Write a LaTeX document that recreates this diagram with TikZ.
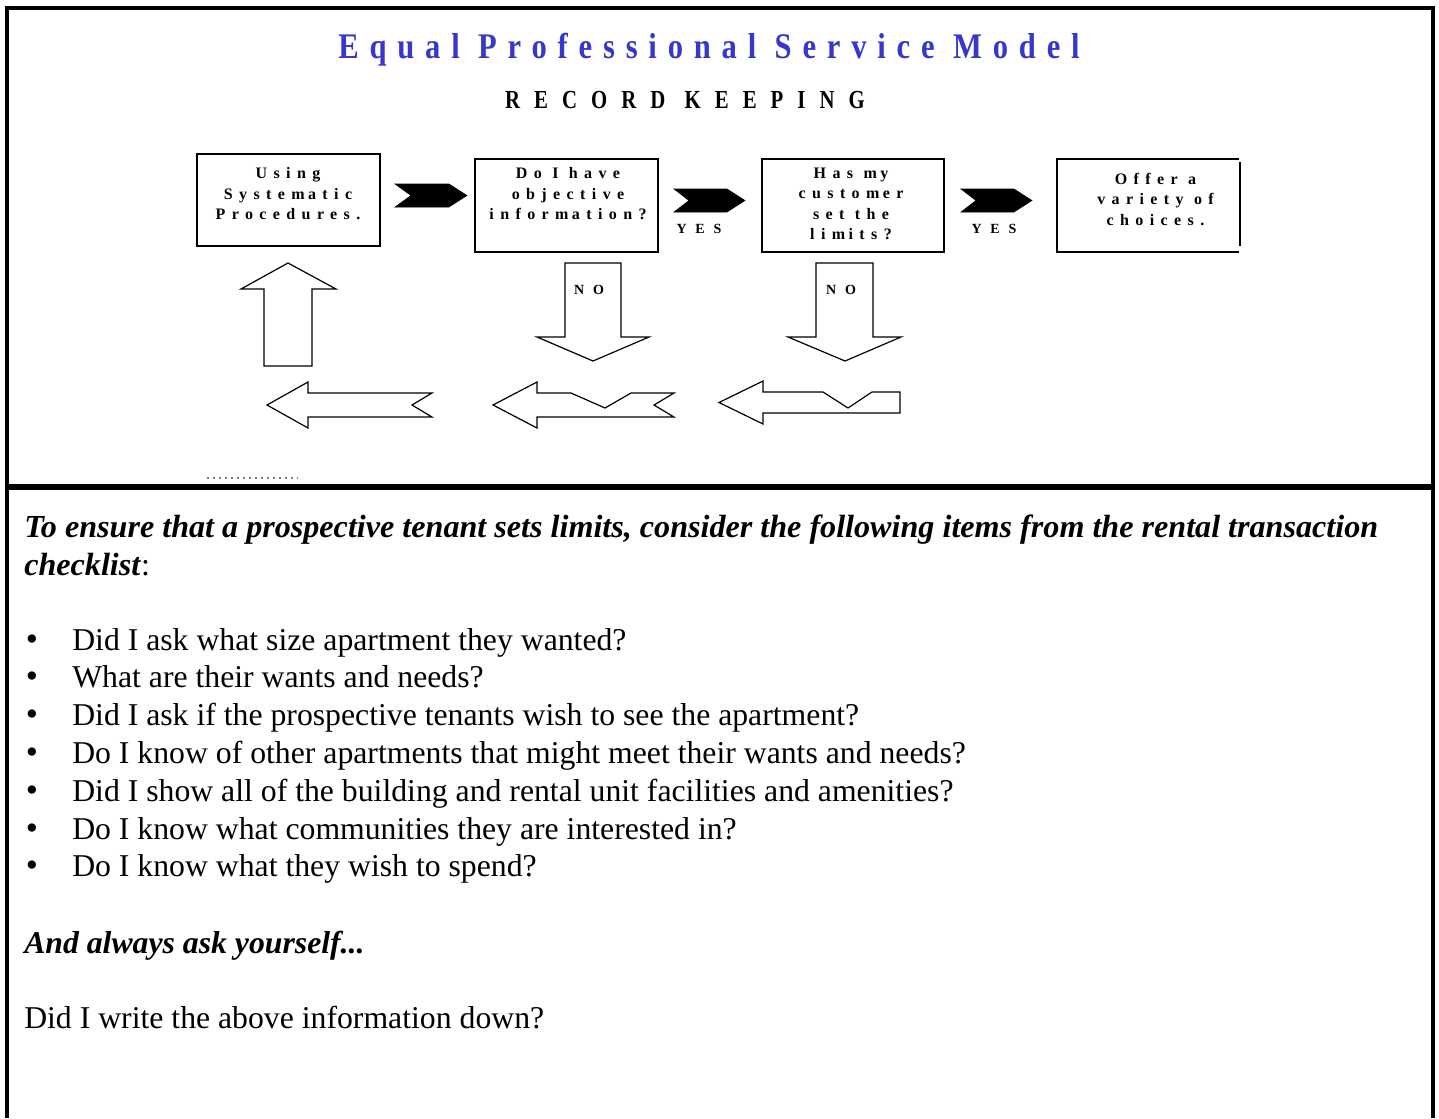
\documentclass[tikz,border=0pt]{standalone}
\usepackage{fontspec}
\setmainfont{Liberation Serif}
\newfontfamily\titlefont[LetterSpace=30,FakeStretch=0.85]{Liberation Serif}
\newfontfamily\recfont[LetterSpace=54,FakeStretch=0.8]{Liberation Serif}
\newfontfamily\diagfont[LetterSpace=40]{Liberation Serif}
\newfontfamily\ynfont[LetterSpace=63]{Liberation Serif}
\definecolor{titleblue}{RGB}{55,55,205}
\newcommand\mgap{\hspace{2.5pt}}
\tikzset{
  box/.style={draw=black, line width=0.9pt, inner sep=0pt},
  boxtext/.style={anchor=north, inner sep=0pt, align=center, font=\diagfont\bfseries\fontsize{12}{15.4}\selectfont},
  chevron/.style={fill=black, draw=black, line width=0.4pt, line join=miter},
  blockarrow/.style={draw=black, line width=0.9pt, fill=white, line join=miter},
  yn/.style={inner sep=0pt, font=\ynfont\bfseries\fontsize{10.5}{12}\selectfont},
  body/.style={anchor=base west, inner sep=0pt, font=\fontsize{23.8}{28}\selectfont},
  bulletmark/.style={anchor=base, inner sep=0pt, font=\fontsize{26}{28}\selectfont},
}
\begin{document}
\begin{tikzpicture}[x=0.75pt,y=-0.75pt]
\useasboundingbox (0,0) rectangle (1439,1118);
\fill[white] (0,0) rectangle (1439,1118);

% frame
\draw[line width=3pt, line join=miter] (7,1118) -- (7,8) -- (1433,8) -- (1433,1118);
\draw[line width=4.5pt] (5,486.5) -- (1435,486.5);

% titles
\node[anchor=base, inner sep=0pt, text=titleblue, font=\titlefont\bfseries\fontsize{27}{30}\selectfont] (title) at (709,58) {Equal Professional Service Model};
\node[anchor=base, inner sep=0pt, font=\recfont\bfseries\fontsize{19.5}{22}\selectfont] (sub) at (685,108.5) {RECORD KEEPING};

% boxes
\node[box, minimum width=137.25pt, minimum height=69pt] (b1) at (288.5,200) {};
\node[box, minimum width=137.25pt, minimum height=69.75pt] (b2) at (566.5,205.5) {};
\node[box, minimum width=136.5pt, minimum height=69.75pt] (b3) at (853,205.5) {};
\draw[line width=0.9pt] (1239,159) -- (1057,159) -- (1057,252) -- (1239,252);
\draw[line width=2.2pt] (1240,162) -- (1240,246);

\node[boxtext] (t1) at (288,167.5) {Using\\System\mgap atic\\Procedures.};
\node[boxtext] (t2) at (568,167.5) {Do I have\\objective\\inform\mgap ation?};
\node[boxtext] (t3) at (851,167.5) {Has m\mgap y\\custom\mgap er\\set the\\lim\mgap its?};
\node[boxtext] (t4) at (1155.5,172.5) {Offer a\\variety of\\choices.};

% chevrons
\draw[chevron] (395,184) -- (449,184) -- (467,195.5) -- (449,207) -- (395,207) -- (411,195.5) -- cycle;
\draw[chevron] (674,189) -- (727,189) -- (745,200.5) -- (727,212) -- (674,212) -- (689,200.5) -- cycle;
\draw[chevron] (961,189) -- (1014,189) -- (1032,200.5) -- (1014,212) -- (961,212) -- (976,200.5) -- cycle;
\node[yn] (yes1) at (699,229) {YES};
\node[yn] (yes2) at (994,229) {YES};

% block arrows
\draw[blockarrow] (264,366) -- (264,289) -- (241,289) -- (288,263) -- (336,289) -- (312,289) -- (312,366) -- cycle;
\draw[blockarrow] (565,263) -- (621,263) -- (621,337) -- (649,337) -- (593,361) -- (537,337) -- (565,337) -- cycle;
\draw[blockarrow] (816,263) -- (873,263) -- (873,337) -- (901,337) -- (845,361) -- (788,337) -- (816,337) -- cycle;
\node[yn] (no1) at (589,290) {NO};
\node[yn] (no2) at (841,290) {NO};

\draw[blockarrow] (267,405) -- (308,382) -- (308,393) -- (432,393) -- (412,405) -- (432,417) -- (308,417) -- (308,428) -- cycle;
\draw[blockarrow] (493,405) -- (537,382) -- (537,393) -- (571,393) -- (605,408) -- (631,393) -- (674,393) -- (654,405) -- (674,417) -- (537,417) -- (537,428) -- cycle;
\draw[blockarrow] (719,402.5) -- (763,381) -- (763,392) -- (823,392) -- (848,408) -- (872,392) -- (900,392) -- (900,413) -- (763,413) -- (763,424) -- cycle;

\draw[gray, line width=0.8pt, dash pattern=on 1.5pt off 3pt] (207,478) -- (298,478);

% text section
\node[body, font=\fontsize{24.1}{28}\selectfont] (h1) at (24,537) {\bfseries\itshape To ensure that a prospective tenant sets limits, consider the following items from the rental transaction};
\node[body, font=\fontsize{24.1}{28}\selectfont] (h2) at (24,575) {\textbf{\textit{checklist}}:};

\foreach \txt [count=\i] in {Did I ask what size apartment they wanted?,
  What are their wants and needs?,
  Did I ask if the prospective tenants wish to see the apartment?,
  Do I know of other apartments that might meet their wants and needs?,
  Did I show all of the building and rental unit facilities and amenities?,
  Do I know what communities they are interested in?,
  Do I know what they wish to spend?} {
  \node[bulletmark] (bu\i) at (32,{650+37.8*(\i-1)}) {\textbullet};
  \node[body] (it\i) at (72,{650+37.8*(\i-1)}) {\txt};
}

\node[body] (ask) at (24,953) {\bfseries\itshape And always ask yourself...};
\node[body] (last) at (24,1028) {Did I write the above information down?};
\end{tikzpicture}
\end{document}
